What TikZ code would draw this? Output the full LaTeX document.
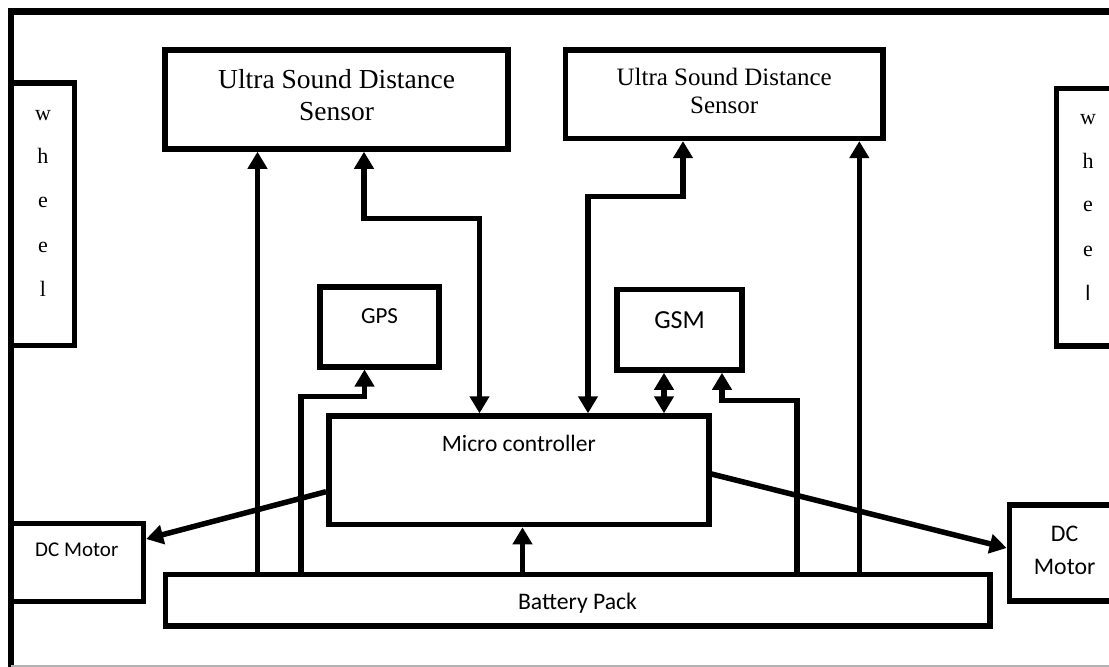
\documentclass[tikz,border=0pt]{standalone}
\usepackage{fontspec}
\setmainfont{Liberation Serif}
\newfontfamily\carl{Carlito}
\usetikzlibrary{arrows.meta}
\begin{document}
\begin{tikzpicture}[x=1pt,y=-1pt,
  blk/.style={draw, line width=5.5pt, inner sep=0pt},
  lbl/.style={anchor=base, inner sep=0pt},
  serf/.style={font=\fontsize{#1pt}{#1pt}\selectfont},
  sans/.style={font=\carl\fontsize{#1pt}{#1pt}\selectfont},
  conn/.style={line width=5.5pt},
  arr/.style={conn, -{Triangle[length=17pt,width=19pt]}},
  darr/.style={conn, {Triangle[length=17pt,width=19pt]}-{Triangle[length=17pt,width=19pt]}},
  frameline/.style={line width=6.5pt}
]
\path[use as bounding box] (0,0) rectangle (1109,667);
\clip (0,0) rectangle (1109,667);

% outer frame
\draw[frameline] (11,690) -- (11,11.7) -- (1130,11.7);
\draw[gray!60, line width=1.2pt] (11,666) -- (1130,666);

% boxes
\node[blk, minimum width=343pt, minimum height=99pt] (s1) at (336.5,99.5) {};
\node[blk, minimum width=317.3pt, minimum height=88.3pt] (s2) at (724.2,94.2) {};
\node[blk, minimum width=63.6pt, minimum height=262.5pt] (lw) at (42.8,214.3) {};
\node[blk, minimum width=63.7pt, minimum height=257.7pt] (rw) at (1088.2,217.2) {};
\node[blk, minimum width=118.6pt, minimum height=79.7pt] (gps) at (379.5,326.9) {};
\node[blk, minimum width=124.8pt, minimum height=80.5pt] (gsm) at (679.6,329.8) {};
\node[blk, minimum width=380pt, minimum height=108.5pt] (mc) at (518.8,470.3) {};
\node[blk, minimum width=824.5pt, minimum height=51.5pt] (bat) at (577.8,600.3) {};
\node[blk, minimum width=132.4pt, minimum height=77.8pt] (dml) at (77.2,562.6) {};
\node[blk, minimum width=110.6pt, minimum height=96pt] (dmr) at (1064.7,553) {};

% texts
\node[lbl, serf=27.5] (s1a) at (336.6,88) {Ultra Sound Distance};
\node[lbl, serf=27.5] (s1b) at (336.6,120) {Sensor};
\node[lbl, serf=25] (s2a) at (724.2,85) {Ultra Sound Distance};
\node[lbl, serf=25] (s2b) at (724.2,113.3) {Sensor};

\node[lbl, serf=22] (lw1) at (43,120) {w};
\node[lbl, serf=22] (lw2) at (43,163) {h};
\node[lbl, serf=22] (lw3) at (43,207) {e};
\node[lbl, serf=22] (lw4) at (43,252) {e};
\node[lbl, serf=22] (lw5) at (43,296) {l};

\node[lbl, serf=22] (rw1) at (1088,124.3) {w};
\node[lbl, serf=22] (rw2) at (1088,168.3) {h};
\node[lbl, serf=22] (rw3) at (1088,211.7) {e};
\node[lbl, serf=22] (rw4) at (1088,256) {e};
\node[lbl, sans=22] (rw5) at (1088,300) {l};

\node[lbl, sans=23] (gpst) at (379.5,323) {GPS};
\node[lbl, sans=26] (gsmt) at (679.6,328.3) {GSM};
\node[lbl, sans=23.5] (mct) at (518.8,451.7) {Micro controller};
\node[lbl, sans=23.7] (batt) at (577.5,609) {Battery Pack};
\node[lbl, sans=21] (dmlt) at (76.8,556.7) {DC Motor};
\node[lbl, sans=23.8] (dmra) at (1064.6,541.7) {DC};
\node[lbl, sans=23.8] (dmrb) at (1064.6,574) {Motor};

% connector helper coordinates
\coordinate (c1) at (257.5,0);
\coordinate (cA) at (364,0);
\coordinate (cB) at (479.5,218.3);
\coordinate (g1) at (301,0);
\coordinate (g2) at (364.5,396.3);
\coordinate (m1) at (522.5,0);
\coordinate (k1) at (588,0);
\coordinate (k2) at (683,196.3);
\coordinate (q1) at (664,0);
\coordinate (r1) at (797,0);
\coordinate (r2) at (722,400.5);
\coordinate (t1) at (859.3,0);
\coordinate (p1) at (0,491.7);
\coordinate (p2) at (0,539);
\coordinate (p3) at (0,474);
\coordinate (p4) at (0,548);

% connectors
\draw[arr] (bat.north -| c1) -- (s1.south -| c1);
\draw[darr] (s1.south -| cA) |- (cB) -- (mc.north -| cB);
\draw[arr] (bat.north -| g1) |- (g2) -- (gps.south -| g2);
\draw[arr] (bat.north -| m1) -- (mc.south -| m1);
\draw[darr] (mc.north -| k1) |- (k2) -- (s2.south -| k2);
\draw[darr] (gsm.south -| q1) -- (mc.north -| q1);
\draw[arr] (bat.north -| r1) |- (r2) -- (gsm.south -| r2);
\draw[arr] (bat.north -| t1) -- (s2.south -| t1);
\draw[arr] (mc.west |- p1) -- (dml.east |- p2);
\draw[arr] (mc.east |- p3) -- (dmr.west |- p4);
\end{tikzpicture}
\end{document}
